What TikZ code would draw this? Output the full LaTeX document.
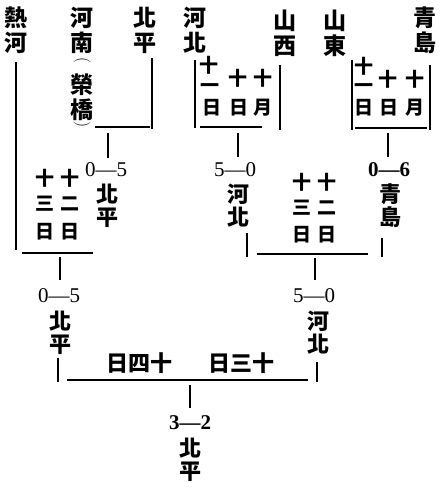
\documentclass[tikz,border=0pt]{standalone}
\usepackage{fontspec}
\newfontfamily\cjk{Noto Sans CJK TC}
\newfontfamily\numf{Liberation Serif}
\begin{document}
\begin{tikzpicture}[x=1pt,y=-1pt,
 cn/.style={font=\cjk\bfseries\fontsize{23}{25}\selectfont,align=center,inner sep=0pt},
 cnm/.style={font=\cjk\bfseries\fontsize{22}{23}\selectfont,align=center,inner sep=0pt},
 par/.style={font=\fontsize{17}{17}\selectfont,inner sep=0pt,rotate=-90},
 dt/.style={font=\cjk\bfseries\fontsize{19}{19}\selectfont,inner sep=0pt},
 fd/.style={font=\cjk\bfseries\fontsize{22}{22}\selectfont,inner sep=0pt},
 sc/.style={font=\numf\fontsize{21}{21}\selectfont,inner sep=0pt},
 scb/.style={font=\numf\bfseries\fontsize{21}{21}\selectfont,inner sep=0pt},
 ln/.style={line width=1.2pt},
 lnt/.style={line width=2pt}]
\useasboundingbox (0,0) rectangle (439,489);
\fill[white] (0,0) rectangle (439,489);

% top team names
\node[cn] (rehe) at (16,30) {熱\\河};
\node[cn] (henan) at (82,30) {河\\南};
\node[par] (po) at (82,61) {(};
\node[cn] (rongqiao) at (82,97) {榮\\橋};
\node[par] (pc) at (82,125) {)};
\node[cn] (beipingA) at (145,30) {北\\平};
\node[cn] (hebeiA) at (195,30) {河\\北};
\node[cn] (shanxi) at (285,33) {山\\西};
\node[cn] (shandong) at (335,33) {山\\東};
\node[cn] (qingdaoA) at (425,30) {青\\島};

% dates, upper middle group
\node[dt] (ua1) at (209,65) {十};
\node[dt] (ua2) at (210,88) {一};
\node[dt] (ua3) at (212,108) {日};
\node[dt] (ub1) at (238,78) {十};
\node[dt] (ub2) at (239,108) {日};
\node[dt] (uc1) at (263,78) {十};
\node[dt] (uc2) at (263,108) {月};
% dates, upper right group
\node[dt] (ra1) at (364,66) {十};
\node[dt] (ra2) at (364,88) {一};
\node[dt] (ra3) at (364,108) {日};
\node[dt] (rb1) at (388,79) {十};
\node[dt] (rb2) at (389,108) {日};
\node[dt] (rc1) at (415,79) {十};
\node[dt] (rc2) at (415,108) {月};
% dates, middle left group
\node[dt] (la1) at (45,178) {十};
\node[dt] (la2) at (45,204) {三};
\node[dt] (la3) at (45,232) {日};
\node[dt] (lb1) at (70,178) {十};
\node[dt] (lb2) at (70,204) {二};
\node[dt] (lb3) at (70,232) {日};
% dates, middle right group
\node[dt] (ma1) at (302,182) {十};
\node[dt] (ma2) at (302,208) {三};
\node[dt] (ma3) at (302,235) {日};
\node[dt] (mb1) at (327,182) {十};
\node[dt] (mb2) at (327,208) {二};
\node[dt] (mb3) at (327,235) {日};

% scores and winners
\node[sc] (s1) at (106,170) {0—5};
\node[cnm] (w1) at (107,206) {北\\平};
\node[sc] (s2) at (235,170) {5—0};
\node[cnm] (w2) at (238,206) {河\\北};
\node[scb] (s3) at (389,170) {0—6};
\node[cnm] (w3) at (390,206) {青\\島};
\node[sc] (s4) at (59,296) {0—5};
\node[cnm] (w4) at (60,333) {北\\平};
\node[sc] (s5) at (314,296) {5—0};
\node[cnm] (w5) at (318,333) {河\\北};
\node[fd] (f1) at (139,363) {日四十};
\node[fd] (f2) at (241,363) {日三十};
\node[scb] (s6) at (190,423) {3—2};
\node[cnm] (w6) at (190,460) {北\\平};

% connector end points
\coordinate (a1) at (16,62);   \coordinate (a2) at (16,250);
\coordinate (b1) at (152,58);  \coordinate (b2) at (152,129);
\coordinate (c1) at (95,127);  \coordinate (c2) at (150,127);
\coordinate (d1) at (108,133); \coordinate (d2) at (108,158);
\coordinate (e1) at (195,60);  \coordinate (e2) at (195,128);
\coordinate (g1) at (200,127); \coordinate (g2) at (262,127);
\coordinate (h1) at (280,65);  \coordinate (h2) at (280,130);
\coordinate (i1) at (238,133); \coordinate (i2) at (238,157);
\coordinate (j1) at (352,60);  \coordinate (j2) at (352,130);
\coordinate (k1) at (430,65);  \coordinate (k2) at (430,130);
\coordinate (l1) at (355,128); \coordinate (l2) at (427,128);
\coordinate (m1) at (388,133); \coordinate (m2) at (388,157);
\coordinate (n1) at (22,253);  \coordinate (n2) at (93,253);
\coordinate (o1) at (60,257);  \coordinate (o2) at (60,280);
\coordinate (p1) at (247,233); \coordinate (p2) at (247,257);
\coordinate (q1) at (257,254); \coordinate (q2) at (368,254);
\coordinate (r1) at (382,238); \coordinate (r2) at (382,257);
\coordinate (t1) at (315,258); \coordinate (t2) at (315,280);
\coordinate (u1) at (58,358);  \coordinate (u2) at (58,382);
\coordinate (v1) at (67,380);  \coordinate (v2) at (308,380);
\coordinate (x1) at (317,362); \coordinate (x2) at (317,382);
\coordinate (y1) at (190,385); \coordinate (y2) at (190,408);

\draw[lnt] (a1) -- (a2);
\foreach \p/\q in {b1/b2,c1/c2,d1/d2,e1/e2,g1/g2,h1/h2,i1/i2,j1/j2,k1/k2,l1/l2,m1/m2,n1/n2,o1/o2,p1/p2,q1/q2,r1/r2,t1/t2,u1/u2,v1/v2,x1/x2,y1/y2}
  \draw[ln] (\p) -- (\q);
\end{tikzpicture}
\end{document}
